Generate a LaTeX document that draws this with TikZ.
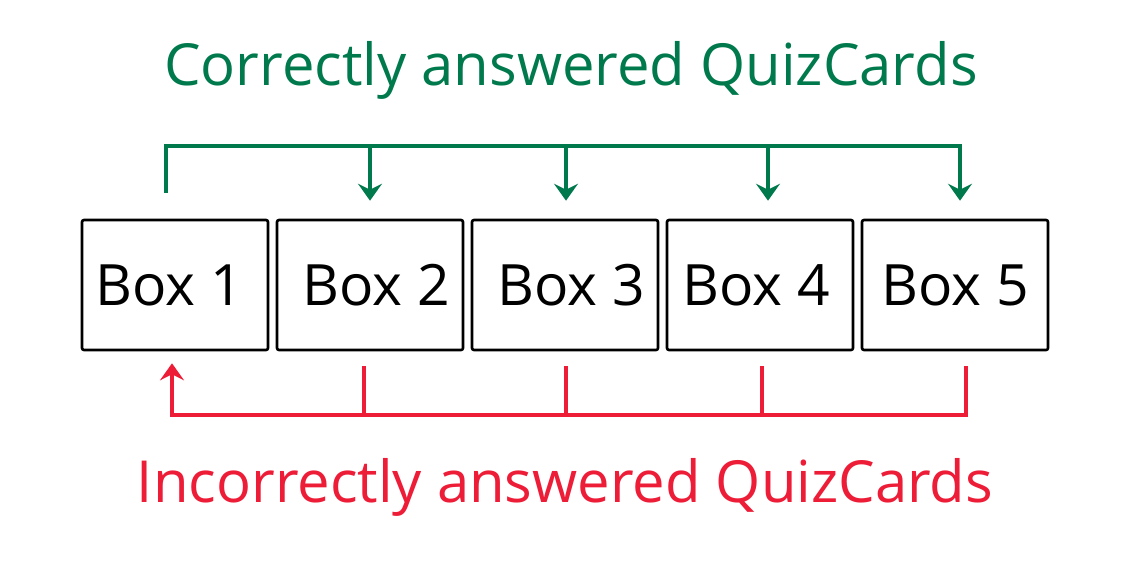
\documentclass[tikz,border=0pt]{standalone}
\usepackage{fontspec}
\setmainfont{Open Sans}
\usetikzlibrary{arrows.meta}
\definecolor{qgreen}{RGB}{0,121,77}
\definecolor{qred}{RGB}{237,28,55}
\tikzset{
  boxnode/.style={draw=black, line width=2.6pt, rounded corners=2pt, minimum width=186pt, minimum height=130pt, inner sep=0pt},
  boxtext/.style={font=\fontsize{57}{57}\selectfont, inner sep=0pt},
  gline/.style={draw=qgreen, line width=3.5pt},
  rline/.style={draw=qred, line width=3.5pt},
  tip/.style={-{Stealth[length=17pt,width=24pt,inset=6pt]}},
  ttl/.style={anchor=base, font=\fontsize{58}{58}\selectfont, inner sep=0pt}
}
\begin{document}
\begin{tikzpicture}[x=1pt,y=-1pt]
\useasboundingbox (0,0) rectangle (1126,566);
\node[boxnode, label={[boxtext, xshift=-6pt]center:Box 1}] (b1) at (175,285) {};
\node[boxnode, label={[boxtext, xshift=6pt]center:Box 2}] (b2) at (370,285) {};
\node[boxnode, label={[boxtext, xshift=6pt]center:Box 3}] (b3) at (565,285) {};
\node[boxnode, label={[boxtext, xshift=-4pt]center:Box 4}] (b4) at (760,285) {};
\node[boxnode, label={[boxtext, xshift=0pt]center:Box 5}] (b5) at (955,285) {};
\node[ttl, text=qgreen] (tc) at (571,85) {Correctly answered QuizCards};
\node[ttl, text=qred] (ti) at (565,502) {Incorrectly answered QuizCards};
\coordinate (gtop) at (0,146);
\coordinate (rbot) at (0,415);
% green connectors
\draw[gline, tip] ([xshift=-9pt,yshift=26pt]b1.north) -- ([xshift=-9pt]b1.north |- gtop) -| ([xshift=5pt,yshift=18pt]b5.north);
\draw[gline, tip] ([xshift=0pt]b2.north |- gtop) -- ([xshift=0pt,yshift=18pt]b2.north);
\draw[gline, tip] ([xshift=1pt]b3.north |- gtop) -- ([xshift=1pt,yshift=18pt]b3.north);
\draw[gline, tip] ([xshift=8pt]b4.north |- gtop) -- ([xshift=8pt,yshift=18pt]b4.north);
% red connectors
\draw[rline, tip] ([xshift=11pt,yshift=-15pt]b5.south) -- ([xshift=11pt]b5.south |- rbot) -| ([xshift=-3pt,yshift=-12pt]b1.south);
\draw[rline] ([xshift=-6pt,yshift=-15pt]b2.south) -- ([xshift=-6pt]b2.south |- rbot);
\draw[rline] ([xshift=1pt,yshift=-15pt]b3.south) -- ([xshift=1pt]b3.south |- rbot);
\draw[rline] ([xshift=2pt,yshift=-15pt]b4.south) -- ([xshift=2pt]b4.south |- rbot);
\end{tikzpicture}
\end{document}
